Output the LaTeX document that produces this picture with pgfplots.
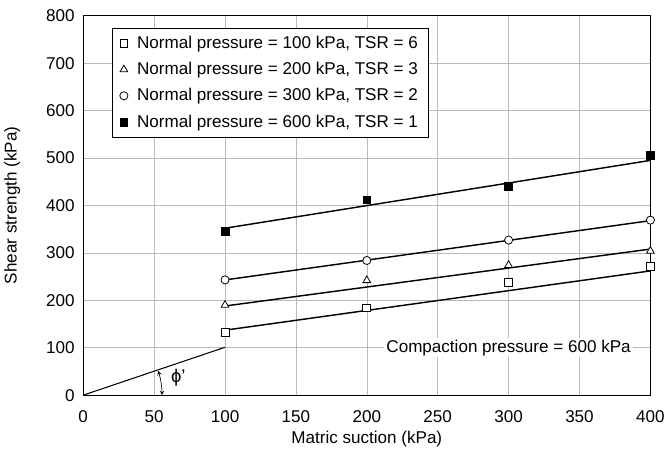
\documentclass[border=0pt]{standalone}
\usepackage{fontspec}
\setmainfont{Liberation Sans}
\usepackage{pgfplots}
\pgfplotsset{compat=1.18}
\begin{document}
\begin{tikzpicture}
\begin{axis}[
  scale only axis,
  width=432pt, height=289pt,
  xmin=0, xmax=400, ymin=0, ymax=800,
  xtick={0,50,...,400}, ytick={0,100,...,800},
  grid=major,
  grid style={gray!55, line width=0.4pt},
  axis line style={line width=1pt},
  tick style={draw=none},
  clip=false,
  font=\fontsize{13}{15}\selectfont,
  /pgf/number format/assume math mode=true,
  yticklabel style={xshift=-3pt},
  xticklabel style={yshift=-8pt},
  xlabel={Matric suction (kPa)},
  ylabel={Shear strength (kPa)},
  xlabel style={at={(axis description cs:0.5,-0.117)}, anchor=center},
  ylabel style={at={(axis description cs:-0.125,0.5)}, anchor=center},
  legend style={at={(axis cs:20,774)}, anchor=north west, draw=black, line width=0.5pt,
    font=\fontsize{13}{15}\selectfont, row sep=5pt, inner xsep=6pt, inner ysep=4pt,
    /tikz/every odd column/.append style={column sep=5pt}},
  legend cell align=left,
]
% fitted lines
\addplot[black, line width=1.1pt, forget plot] coordinates {(100,137) (400,262)};
\addplot[black, line width=1.1pt, forget plot] coordinates {(100,188) (400,308)};
\addplot[black, line width=1.1pt, forget plot] coordinates {(100,243) (400,368)};
\addplot[black, line width=1.1pt, forget plot] coordinates {(100,352) (400,495)};
\addplot[black, line width=0.8pt, forget plot] coordinates {(0,0) (100,101)};
% data points
\addplot[only marks, mark=square*, mark options={fill=white, draw=black, line width=0.6pt}, mark size=3pt]
  coordinates {(100,133) (200,184) (300,238) (400,272)};
\addlegendentry{Normal pressure = 100 kPa, TSR = 6}
\addplot[only marks, mark=triangle*, mark options={fill=white, draw=black, line width=0.6pt}, mark size=3.4pt]
  coordinates {(100,190) (200,242) (300,274) (400,304)};
\addlegendentry{Normal pressure = 200 kPa, TSR = 3}
\addplot[only marks, mark=*, mark options={fill=white, draw=black, line width=0.6pt}, mark size=3.1pt]
  coordinates {(100,243) (200,284) (300,327) (400,369)};
\addlegendentry{Normal pressure = 300 kPa, TSR = 2}
\addplot[only marks, mark=square*, mark options={fill=black, draw=black}, mark size=3pt]
  coordinates {(100,346) (200,412) (300,440) (400,505)};
\addlegendentry{Normal pressure = 600 kPa, TSR = 1}
% angle
\draw[<->, >=stealth, line width=0.5pt] (axis cs:0,0) ++(0:60pt) arc[start angle=0, end angle=18, radius=60pt];
\node[font=\fontsize{14}{16}\selectfont] at (axis cs:67,37) {ϕ'};
\node[fill=white, inner xsep=2pt, inner ysep=1pt, font=\fontsize{13}{15}\selectfont] at (axis cs:300,100) {Compaction pressure = 600 kPa};
% page margins
\path (axis description cs:0.5,1) ++(0pt,12pt);
\path (axis description cs:0.5,0) ++(0pt,-46pt);
\end{axis}
\end{tikzpicture}
\end{document}
